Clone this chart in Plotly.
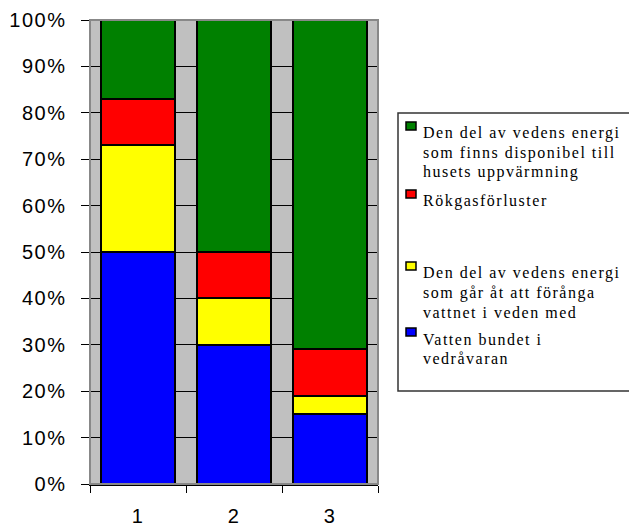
import plotly.graph_objects as go

categories = ["1", "2", "3"]
vatten = [50, 30, 15]
forangning = [23, 10, 4]
rokgas = [10, 10, 10]
disponibel = [17, 50, 71]
ytick_vals = [0, 10, 20, 30, 40, 50, 60, 70, 80, 90, 100]
ytick_text = [f"{v}%" for v in ytick_vals]

legend_items = [
    (["Den del av vedens energi", "som finns disponibel till", "husets uppvärmning"], "#008000", 133),
    (["Rökgasförluster"], "#FF0000", 201),
    (["Den del av vedens energi", "som går åt att förånga", "vattnet i veden med"], "#FFFF00", 273),
    (["Vatten bundet i", "vedråvaran"], "#0000FF", 339),
]

W, H = 629, 529
L, R, T, B = 90, 378, 20, 484
LINE_H = 19.5

def px2x(px):
    return (px - L) / (R - L)

def py2y(py):
    return (B - py) / (B - T)

fig = go.Figure()
series = [
    ("Vatten bundet i vedråvaran", vatten, "#0000FF"),
    ("Förångning", forangning, "#FFFF00"),
    ("Rökgasförluster", rokgas, "#FF0000"),
    ("Disponibel", disponibel, "#008000"),
]
for name, vals, col in series:
    fig.add_trace(go.Bar(x=categories, y=vals, name=name,
                         marker=dict(color=col, line=dict(color="black", width=2)),
                         showlegend=False, hoverinfo="skip"))

shapes = [
    dict(type="rect", xref="paper", yref="paper", x0=0, x1=1, y0=0, y1=1,
         line=dict(color="#888888", width=2), layer="above"),
    dict(type="rect", xref="paper", yref="paper", x0=px2x(398), x1=px2x(640),
         y0=py2y(391), y1=py2y(113), line=dict(color="#333333", width=1.5)),
]
annotations = []
for lines, col, cy in legend_items:
    shapes.append(dict(type="rect", xref="paper", yref="paper",
                       x0=px2x(406), x1=px2x(416), y0=py2y(cy - 3), y1=py2y(cy - 11),
                       fillcolor=col, line=dict(color="black", width=1.5)))
    for i, line in enumerate(lines):
        annotations.append(dict(text=line, xref="paper", yref="paper",
                                x=px2x(421), y=py2y(cy + i * LINE_H), xanchor="left",
                                yanchor="middle", align="left", showarrow=False,
                                font=dict(family="Liberation Serif", size=16, color="black")))

fig.update_layout(
    width=W, height=H,
    margin=dict(l=L, r=W - R, t=T, b=H - B, autoexpand=False),
    paper_bgcolor="white", plot_bgcolor="#C0C0C0",
    barmode="stack", bargap=0.22,
    showlegend=False,
    shapes=shapes, annotations=annotations,
    xaxis=dict(type="category", tickson="boundaries", ticks="outside", ticklen=7,
               tickcolor="black", showline=True, linecolor="black", linewidth=1.5,
               showgrid=False, ticklabelstandoff=13, automargin=False,
               tickfont=dict(family="Liberation Sans", size=20, color="black")),
    yaxis=dict(range=[0, 100], tickvals=ytick_vals, ticktext=ytick_text,
               ticks="outside", ticklen=8, tickcolor="black",
               showline=True, linecolor="black", linewidth=1.5,
               showgrid=True, gridcolor="black", gridwidth=1, zeroline=False,
               ticklabelstandoff=10, automargin=False,
               tickfont=dict(family="Liberation Sans", size=20, color="black")),
)

post = """
document.body.style.margin='0';
document.body.style.overflow='hidden';
document.querySelectorAll('.annotation-text').forEach(function(t){t.style.letterSpacing='1.5px';});
document.querySelectorAll('.ytick text, .xtick text').forEach(function(t){t.style.letterSpacing='1.5px';});
"""
fig.write_html("out.html", post_script=post, config={"displayModeBar": False, "staticPlot": True})
